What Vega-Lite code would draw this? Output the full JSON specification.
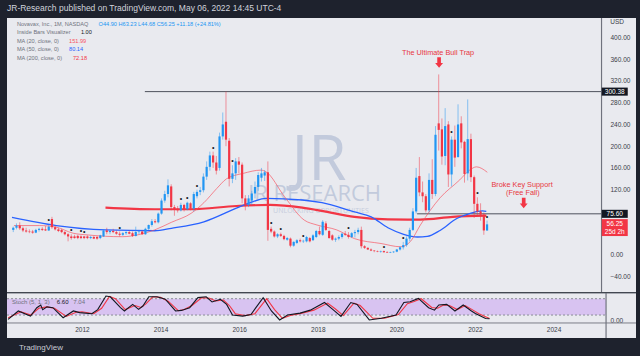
{
"$schema":"https://vega.github.io/schema/vega-lite/v6.json",
"background":"#1e222d",
"padding":{"left":5,"right":6,"top":3,"bottom":4},
"spacing":0,
"title":{"text":"TradingView","orient":"bottom","anchor":"start","dx":13,"color":"#c9ccd4","fontSize":8,"font":"Liberation Sans","fontWeight":"normal","offset":6},
"datasets":{
"candles":[
{"t":2010.125,"o":46,"h":52,"l":42,"c":50},{"t":2010.208,"o":50,"h":58,"l":47,"c":54},{"t":2010.292,"o":54,"h":60,"l":46,"c":49},{"t":2010.375,"o":49,"h":52,"l":42,"c":45},{"t":2010.458,"o":45,"h":50,"l":41,"c":43},{"t":2010.542,"o":43,"h":47,"l":40,"c":42},{"t":2010.625,"o":43,"h":46,"l":39,"c":41},{"t":2010.708,"o":41,"h":48,"l":40,"c":46},{"t":2010.792,"o":46,"h":50,"l":43,"c":48},{"t":2010.875,"o":48,"h":51,"l":44,"c":46},{"t":2010.958,"o":47,"h":53,"l":44,"c":45},
{"t":2011.042,"o":45,"h":56,"l":44,"c":52,"ib":1},{"t":2011.125,"o":66,"h":70,"l":48,"c":51},{"t":2011.208,"o":51,"h":54,"l":45,"c":47},{"t":2011.292,"o":47,"h":50,"l":42,"c":44},{"t":2011.375,"o":46,"h":48,"l":40,"c":42},{"t":2011.458,"o":42,"h":44,"l":36,"c":38},{"t":2011.542,"o":38,"h":40,"l":25,"c":34},{"t":2011.625,"o":34,"h":38,"l":28,"c":31,"ib":1},{"t":2011.708,"o":34,"h":37,"l":30,"c":31},{"t":2011.792,"o":35,"h":37,"l":29,"c":31},{"t":2011.875,"o":34,"h":36,"l":29,"c":31,"ib":1},{"t":2011.958,"o":34,"h":35,"l":29,"c":31,"ib":1},
{"t":2012.042,"o":34,"h":36,"l":29,"c":31},{"t":2012.125,"o":31,"h":35,"l":29,"c":33},{"t":2012.208,"o":33,"h":35,"l":29,"c":30},{"t":2012.292,"o":33,"h":35,"l":28,"c":30},{"t":2012.375,"o":31,"h":37,"l":29,"c":36},{"t":2012.458,"o":34,"h":47,"l":33,"c":45},{"t":2012.542,"o":45,"h":50,"l":38,"c":42},{"t":2012.625,"o":42,"h":46,"l":38,"c":44},{"t":2012.708,"o":44,"h":48,"l":40,"c":42},{"t":2012.792,"o":42,"h":45,"l":37,"c":39},{"t":2012.875,"o":39,"h":43,"l":34,"c":37,"ib":1},{"t":2012.958,"o":37,"h":42,"l":35,"c":40},
{"t":2013.042,"o":40,"h":44,"l":37,"c":42},{"t":2013.125,"o":42,"h":45,"l":38,"c":39},{"t":2013.208,"o":40,"h":43,"l":33,"c":35},{"t":2013.292,"o":35,"h":52,"l":34,"c":42},{"t":2013.375,"o":42,"h":46,"l":38,"c":43},{"t":2013.458,"o":43,"h":45,"l":37,"c":38},{"t":2013.542,"o":38,"h":50,"l":37,"c":48},{"t":2013.625,"o":48,"h":56,"l":46,"c":55},{"t":2013.708,"o":55,"h":66,"l":52,"c":62},{"t":2013.792,"o":62,"h":66,"l":58,"c":60},{"t":2013.875,"o":60,"h":78,"l":58,"c":76},{"t":2013.958,"o":76,"h":104,"l":74,"c":100},
{"t":2014.042,"o":100,"h":118,"l":96,"c":112},{"t":2014.125,"o":112,"h":139,"l":106,"c":128},{"t":2014.208,"o":126,"h":130,"l":82,"c":88},{"t":2014.292,"o":88,"h":92,"l":72,"c":84},{"t":2014.375,"o":85,"h":90,"l":78,"c":82},{"t":2014.458,"o":82,"h":96,"l":80,"c":92,"ib":1},{"t":2014.542,"o":92,"h":94,"l":80,"c":84},{"t":2014.625,"o":84,"h":98,"l":82,"c":96,"ib":1},{"t":2014.708,"o":95,"h":97,"l":82,"c":85},{"t":2014.792,"o":85,"h":116,"l":80,"c":112},{"t":2014.875,"o":108,"h":120,"l":104,"c":116,"ib":1},{"t":2014.958,"o":116,"h":125,"l":110,"c":119},
{"t":2015.042,"o":119,"h":150,"l":115,"c":144},{"t":2015.125,"o":144,"h":172,"l":138,"c":162},{"t":2015.208,"o":162,"h":190,"l":155,"c":183},{"t":2015.292,"o":183,"h":190,"l":160,"c":170,"ib":1},{"t":2015.375,"o":170,"h":182,"l":148,"c":155},{"t":2015.458,"o":160,"h":225,"l":155,"c":218},{"t":2015.542,"o":218,"h":262,"l":212,"c":240},{"t":2015.625,"o":245,"h":300.38,"l":200,"c":212},{"t":2015.708,"o":210,"h":215,"l":126,"c":140},{"t":2015.792,"o":140,"h":165,"l":132,"c":150,"ib":1},{"t":2015.875,"o":150,"h":178,"l":138,"c":172},{"t":2015.958,"o":172,"h":180,"l":150,"c":166},
{"t":2016.042,"o":166,"h":170,"l":95,"c":104},{"t":2016.125,"o":104,"h":110,"l":82,"c":92},{"t":2016.208,"o":92,"h":110,"l":88,"c":104},{"t":2016.292,"o":100,"h":118,"l":92,"c":113},{"t":2016.375,"o":113,"h":135,"l":104,"c":125},{"t":2016.458,"o":125,"h":152,"l":118,"c":147},{"t":2016.542,"o":142,"h":160,"l":135,"c":150},{"t":2016.625,"o":146,"h":156,"l":136,"c":152},{"t":2016.708,"o":152,"h":172,"l":26,"c":46},{"t":2016.792,"o":48,"h":52,"l":40,"c":43,"ib":1},{"t":2016.875,"o":43,"h":45,"l":32,"c":34},{"t":2016.958,"o":34,"h":40,"l":31,"c":38},
{"t":2017.042,"o":38,"h":41,"l":33,"c":35,"ib":1},{"t":2017.125,"o":35,"h":37,"l":27,"c":29},{"t":2017.208,"o":28,"h":33,"l":26,"c":31},{"t":2017.292,"o":30,"h":32,"l":14,"c":17},{"t":2017.375,"o":17,"h":25,"l":15,"c":24},{"t":2017.458,"o":22,"h":29,"l":20,"c":27},{"t":2017.542,"o":27,"h":30,"l":23,"c":25},{"t":2017.625,"o":25,"h":28,"l":22,"c":26,"ib":1},{"t":2017.708,"o":25,"h":35,"l":23,"c":33},{"t":2017.792,"o":31,"h":33,"l":23,"c":25},{"t":2017.875,"o":27,"h":38,"l":26,"c":36},{"t":2017.958,"o":33,"h":46,"l":31,"c":44},
{"t":2018.042,"o":44,"h":52,"l":36,"c":38},{"t":2018.125,"o":37,"h":64,"l":35,"c":61},{"t":2018.208,"o":58,"h":62,"l":44,"c":46},{"t":2018.292,"o":44,"h":46,"l":30,"c":31},{"t":2018.375,"o":36,"h":38,"l":26,"c":28},{"t":2018.458,"o":28,"h":32,"l":24,"c":30},{"t":2018.542,"o":30,"h":36,"l":27,"c":33},{"t":2018.625,"o":33,"h":41,"l":30,"c":39},{"t":2018.708,"o":39,"h":44,"l":35,"c":37},{"t":2018.792,"o":37,"h":42,"l":30,"c":33,"ib":1},{"t":2018.875,"o":33,"h":42,"l":31,"c":40},{"t":2018.958,"o":40,"h":46,"l":32,"c":42},
{"t":2019.042,"o":42,"h":50,"l":38,"c":46},{"t":2019.125,"o":46,"h":52,"l":12,"c":16},{"t":2019.208,"o":16,"h":18,"l":11,"c":13},{"t":2019.292,"o":13,"h":14,"l":9,"c":10},{"t":2019.375,"o":10,"h":12,"l":7,"c":8},{"t":2019.458,"o":8,"h":9,"l":5,"c":7},{"t":2019.542,"o":7,"h":8,"l":5,"c":6},{"t":2019.625,"o":6,"h":8,"l":4,"c":7},{"t":2019.708,"o":7,"h":8,"l":4,"c":5,"ib":1},{"t":2019.792,"o":5,"h":7,"l":3.5,"c":4},{"t":2019.875,"o":4,"h":6,"l":3.5,"c":5},{"t":2019.958,"o":5,"h":7,"l":3.5,"c":6},
{"t":2020.042,"o":6,"h":11,"l":5,"c":10},{"t":2020.125,"o":10,"h":16,"l":8,"c":14},{"t":2020.208,"o":14,"h":24,"l":10,"c":18,"ib":1},{"t":2020.292,"o":18,"h":34,"l":15,"c":30},{"t":2020.375,"o":30,"h":50,"l":25,"c":46},{"t":2020.458,"o":46,"h":86,"l":44,"c":80},{"t":2020.542,"o":80,"h":160,"l":76,"c":142},{"t":2020.625,"o":145,"h":180,"l":108,"c":115},{"t":2020.708,"o":115,"h":135,"l":97,"c":108},{"t":2020.792,"o":108,"h":112,"l":78,"c":82},{"t":2020.875,"o":82,"h":150,"l":78,"c":138},{"t":2020.958,"o":138,"h":176,"l":103,"c":112},
{"t":2021.042,"o":112,"h":237,"l":108,"c":221},{"t":2021.125,"o":242,"h":332,"l":192,"c":230},{"t":2021.208,"o":231,"h":251,"l":166,"c":181},{"t":2021.292,"o":182,"h":270,"l":165,"c":237},{"t":2021.375,"o":240,"h":246,"l":125,"c":148},{"t":2021.458,"o":148,"h":218,"l":126,"c":212,"ib":1},{"t":2021.542,"o":212,"h":238,"l":162,"c":179},{"t":2021.625,"o":180,"h":277,"l":179,"c":240},{"t":2021.708,"o":242,"h":255,"l":196,"c":207},{"t":2021.792,"o":208,"h":210,"l":133,"c":149},{"t":2021.875,"o":150,"h":286,"l":137,"c":213},{"t":2021.958,"o":213,"h":223,"l":134,"c":143},
{"t":2022.042,"o":143,"h":146,"l":68,"c":94},{"t":2022.125,"o":94,"h":106,"l":70,"c":80,"ib":1},{"t":2022.208,"o":80,"h":95,"l":63,"c":74},{"t":2022.292,"o":74,"h":78,"l":37,"c":45},{"t":2022.375,"o":44.9,"h":63.23,"l":44.68,"c":56.25,"ib":1}
],
"ma20":[{"t":2010.143,"v":54},{"t":2010.804,"v":54},{"t":2011.237,"v":51},{"t":2011.669,"v":40},{"t":2012.076,"v":36.6},{"t":2012.941,"v":33.5},{"t":2013.349,"v":37},{"t":2013.781,"v":46},{"t":2014.214,"v":60},{"t":2014.723,"v":76.5},{"t":2015.053,"v":96},{"t":2015.384,"v":122},{"t":2015.639,"v":140},{"t":2016.071,"v":150},{"t":2016.529,"v":156},{"t":2016.656,"v":153},{"t":2017.14,"v":107},{"t":2017.649,"v":64},{"t":2017.98,"v":55},{"t":2018.489,"v":46},{"t":2018.947,"v":30},{"t":2019.634,"v":21},{"t":2020.142,"v":15},{"t":2020.397,"v":25},{"t":2020.651,"v":55},{"t":2021.16,"v":105},{"t":2021.669,"v":138},{"t":2021.924,"v":156},{"t":2022.102,"v":162},{"t":2022.382,"v":152}],
"ma50":[{"t":2010.092,"v":69},{"t":2011.237,"v":54},{"t":2012.509,"v":46},{"t":2013.781,"v":44.5},{"t":2014.214,"v":49},{"t":2015.053,"v":61},{"t":2015.893,"v":86},{"t":2016.326,"v":98},{"t":2016.656,"v":104},{"t":2017.598,"v":101},{"t":2018.107,"v":96},{"t":2018.947,"v":79},{"t":2019.379,"v":70},{"t":2019.812,"v":50},{"t":2020.219,"v":38},{"t":2020.575,"v":33},{"t":2020.83,"v":34},{"t":2021.16,"v":45},{"t":2021.593,"v":67},{"t":2021.924,"v":76},{"t":2022.254,"v":81},{"t":2022.356,"v":80.14}],
"ma200":[{"t":2012.509,"v":87},{"t":2013.781,"v":84},{"t":2014.723,"v":84},{"t":2015.893,"v":90},{"t":2016.758,"v":92},{"t":2017.598,"v":87},{"t":2018.107,"v":81},{"t":2018.947,"v":70},{"t":2019.812,"v":65.5},{"t":2020.651,"v":65},{"t":2021.491,"v":70},{"t":2022.356,"v":72.18}],
"stochK":[{"t":2010.12,"v":4},{"t":2010.38,"v":35},{"t":2010.59,"v":22},{"t":2010.69,"v":16},{"t":2010.85,"v":47},{"t":2010.95,"v":57},{"t":2011.0,"v":40},{"t":2011.11,"v":50},{"t":2011.26,"v":47},{"t":2011.52,"v":10},{"t":2011.78,"v":35},{"t":2011.94,"v":29},{"t":2012.25,"v":25},{"t":2012.4,"v":40},{"t":2012.61,"v":90},{"t":2012.72,"v":87},{"t":2012.98,"v":47},{"t":2013.08,"v":35},{"t":2013.29,"v":59},{"t":2013.44,"v":41},{"t":2013.55,"v":53},{"t":2013.7,"v":87},{"t":2013.91,"v":87},{"t":2014.12,"v":78},{"t":2014.38,"v":35},{"t":2014.53,"v":37},{"t":2014.74,"v":47},{"t":2014.95,"v":84},{"t":2015.16,"v":87},{"t":2015.31,"v":68},{"t":2015.52,"v":78},{"t":2015.68,"v":59},{"t":2015.83,"v":20},{"t":2016.09,"v":16},{"t":2016.3,"v":22},{"t":2016.61,"v":84},{"t":2016.82,"v":35},{"t":2017.03,"v":2},{"t":2017.23,"v":20},{"t":2017.55,"v":27},{"t":2017.81,"v":38},{"t":2018.17,"v":66},{"t":2018.38,"v":41},{"t":2018.59,"v":15},{"t":2018.84,"v":66},{"t":2019.0,"v":59},{"t":2019.31,"v":2},{"t":2019.62,"v":8},{"t":2019.99,"v":20},{"t":2020.19,"v":66},{"t":2020.35,"v":69},{"t":2020.56,"v":81},{"t":2020.82,"v":47},{"t":2020.97,"v":38},{"t":2021.08,"v":57},{"t":2021.28,"v":59},{"t":2021.49,"v":35},{"t":2021.7,"v":57},{"t":2021.91,"v":35},{"t":2022.01,"v":26},{"t":2022.27,"v":7},{"t":2022.37,"v":6.6}],
"stochD":[{"t":2010.12,"v":10},{"t":2010.45,"v":32},{"t":2010.7,"v":20},{"t":2010.9,"v":45},{"t":2011.1,"v":50},{"t":2011.3,"v":45},{"t":2011.6,"v":15},{"t":2011.85,"v":30},{"t":2012.0,"v":32},{"t":2012.3,"v":25},{"t":2012.5,"v":45},{"t":2012.7,"v":88},{"t":2012.85,"v":80},{"t":2013.1,"v":40},{"t":2013.35,"v":55},{"t":2013.5,"v":48},{"t":2013.62,"v":60},{"t":2013.8,"v":87},{"t":2014.0,"v":85},{"t":2014.2,"v":70},{"t":2014.45,"v":36},{"t":2014.6,"v":40},{"t":2014.8,"v":55},{"t":2015.05,"v":84},{"t":2015.25,"v":82},{"t":2015.4,"v":72},{"t":2015.6,"v":75},{"t":2015.75,"v":55},{"t":2015.9,"v":25},{"t":2016.15,"v":18},{"t":2016.4,"v":25},{"t":2016.7,"v":80},{"t":2016.9,"v":40},{"t":2017.1,"v":8},{"t":2017.3,"v":18},{"t":2017.6,"v":27},{"t":2017.9,"v":38},{"t":2018.25,"v":64},{"t":2018.45,"v":42},{"t":2018.65,"v":18},{"t":2018.92,"v":64},{"t":2019.08,"v":55},{"t":2019.4,"v":8},{"t":2019.7,"v":8},{"t":2020.05,"v":22},{"t":2020.28,"v":62},{"t":2020.45,"v":70},{"t":2020.63,"v":80},{"t":2020.9,"v":48},{"t":2021.05,"v":45},{"t":2021.2,"v":57},{"t":2021.35,"v":55},{"t":2021.55,"v":40},{"t":2021.75,"v":55},{"t":2021.95,"v":38},{"t":2022.1,"v":25},{"t":2022.37,"v":7.04}],
"legend":[{"t":2010.219,"v":425.3,"text":"Novavax, Inc., 1M, NASDAQ","g":"label"},{"t":2012.331,"v":425.3,"text":"O44.90 H63.23 L44.68 C56.25 +11.18 (+24.81%)","g":"up"},{"t":2010.219,"v":409.5,"text":"Inside Bars Visualizer","g":"label"},{"t":2011.873,"v":409.5,"text":"1.00","g":"plain"},{"t":2010.219,"v":393.5,"text":"MA (20, close, 0)","g":"label"},{"t":2011.567,"v":393.5,"text":"151.99","g":"ma20"},{"t":2010.219,"v":378.2,"text":"MA (50, close, 0)","g":"label"},{"t":2011.567,"v":378.2,"text":"80.14","g":"ma50"},{"t":2010.219,"v":362.2,"text":"MA (200, close, 0)","g":"label"},{"t":2011.669,"v":362.2,"text":"72.18","g":"ma200"}]
},
"vconcat":[
{
"width":629,"height":274,
"title":{"text":"JR-Research published on TradingView.com, May 06, 2022 14:45 UTC-4","anchor":"start","color":"#d1d4dc","fontSize":8.5,"font":"Liberation Sans","fontWeight":"normal","offset":6},
"encoding":{
"x":{"field":"t","type":"quantitative","scale":{"domain":[2010.092,2026.097],"nice":false,"zero":false},"axis":{"orient":"bottom","labels":false,"ticks":false,"title":null,"domain":false,"tickCount":1}}
},
"layer":[
{"data":{"values":[{"t":2018.03,"v":137.8,"text":"JR"}]},"mark":{"type":"text","fontSize":62,"font":"Open Sans","color":"#c2cadc","baseline":"alphabetic","align":"center"},
 "encoding":{"y":{"field":"v","type":"quantitative","scale":{"domain":[-68.2,435.8],"nice":false,"zero":false},"axis":{"orient":"right","offset":-30,"values":[-40,0,120,160,200,240,280,320,360,400],"format":".2f","title":null,"domain":false}},"text":{"field":"text"}}},
{"data":{"values":[{"t":2016.2,"v":99.2,"text":"JR RESEARCH"}]},"mark":{"type":"text","fontSize":22,"font":"Open Sans","color":"#c2cadc","baseline":"alphabetic","align":"left"},
 "encoding":{"y":{"field":"v","type":"quantitative","scale":{"domain":[-68.2,435.8],"nice":false,"zero":false},"axis":{"orient":"right","offset":-30,"values":[-40,0,120,160,200,240,280,320,360,400],"format":".2f","title":null,"domain":false}},"text":{"field":"text"}}},
{"data":{"values":[{"t":2018.08,"v":81,"text":"UNLOCKING OPPORTUNITIES"}]},"mark":{"type":"text","fontSize":7,"font":"Open Sans","color":"#c6cddd","baseline":"middle","align":"center"},
 "encoding":{"y":{"field":"v","type":"quantitative","scale":{"domain":[-68.2,435.8],"nice":false,"zero":false},"axis":{"orient":"right","offset":-30,"values":[-40,0,120,160,200,240,280,320,360,400],"format":".2f","title":null,"domain":false}},"text":{"field":"text"}}},
{"data":{"values":[{"t":2013.527,"t2":2025.333,"v":300.38},{"t":2020.567,"t2":2025.333,"v":75.6}]},"mark":{"type":"rule","color":"#4e515c","strokeWidth":1},
 "encoding":{"x2":{"field":"t2"},"y":{"field":"v","type":"quantitative","scale":{"domain":[-68.2,435.8],"nice":false,"zero":false},"axis":{"orient":"right","offset":-30,"values":[-40,0,120,160,200,240,280,320,360,400],"format":".2f","title":null,"domain":false}}}},
{"data":{"name":"ma200"},"mark":{"type":"line","color":"#f23645","strokeWidth":2.2,"interpolate":"monotone"},
 "encoding":{"y":{"field":"v","type":"quantitative","scale":{"domain":[-68.2,435.8],"nice":false,"zero":false},"axis":{"orient":"right","offset":-30,"values":[-40,0,120,160,200,240,280,320,360,400],"format":".2f","title":null,"domain":false}}}},
{"data":{"name":"ma50"},"mark":{"type":"line","color":"#2962ff","strokeWidth":1.3,"interpolate":"monotone"},
 "encoding":{"y":{"field":"v","type":"quantitative","scale":{"domain":[-68.2,435.8],"nice":false,"zero":false},"axis":{"orient":"right","offset":-30,"values":[-40,0,120,160,200,240,280,320,360,400],"format":".2f","title":null,"domain":false}}}},
{"data":{"name":"ma20"},"mark":{"type":"line","color":"#f7525f","strokeWidth":0.8,"opacity":0.85,"interpolate":"monotone"},
 "encoding":{"y":{"field":"v","type":"quantitative","scale":{"domain":[-68.2,435.8],"nice":false,"zero":false},"axis":{"orient":"right","offset":-30,"values":[-40,0,120,160,200,240,280,320,360,400],"format":".2f","title":null,"domain":false}}}},
{"data":{"name":"candles"},"mark":{"type":"rule","strokeWidth":1,"opacity":0.5},
 "encoding":{"y":{"field":"l","type":"quantitative","scale":{"domain":[-68.2,435.8],"nice":false,"zero":false},"axis":{"orient":"right","offset":-30,"values":[-40,0,120,160,200,240,280,320,360,400],"format":".2f","title":null,"domain":false}},"y2":{"field":"h"},
 "color":{"condition":{"test":"datum.c >= datum.o","value":"#2196f3"},"value":"#f23645"}}},
{"data":{"name":"candles"},"mark":{"type":"bar","size":2.2},
 "encoding":{"y":{"field":"o","type":"quantitative","scale":{"domain":[-68.2,435.8],"nice":false,"zero":false},"axis":{"orient":"right","offset":-30,"values":[-40,0,120,160,200,240,280,320,360,400],"format":".2f","title":null,"domain":false}},"y2":{"field":"c"},
 "color":{"condition":{"test":"datum.c >= datum.o","value":"#2196f3"},"value":"#f23645"}}},
{"data":{"name":"candles"},"transform":[{"filter":"datum.ib"}],"mark":{"type":"text","text":"•","fontSize":7,"dy":-4,"color":"#131722","baseline":"middle"},
 "encoding":{"y":{"field":"h","type":"quantitative","scale":{"domain":[-68.2,435.8],"nice":false,"zero":false},"axis":{"orient":"right","offset":-30,"values":[-40,0,120,160,200,240,280,320,360,400],"format":".2f","title":null,"domain":false}}}},
{"data":{"values":[{"t":2021.109,"v":371.4,"text":"The Ultimate Bull Trap"},{"t":2023.28,"v":128,"text":"Broke Key Support"},{"t":2023.3,"v":114,"text":"(Free Fall)"}]},"mark":{"type":"text","fontSize":7.3,"color":"#e8373f","align":"center","baseline":"middle"},
 "encoding":{"y":{"field":"v","type":"quantitative","scale":{"domain":[-68.2,435.8],"nice":false,"zero":false},"axis":{"orient":"right","offset":-30,"values":[-40,0,120,160,200,240,280,320,360,400],"format":".2f","title":null,"domain":false}},"text":{"field":"text"}}},
{"data":{"values":[{"t":2021.135,"v":354},{"t":2023.323,"v":95.5}]},"mark":{"type":"point","shape":"M-0.35,-1L0.35,-1L0.35,0.1L0.75,0.1L0,1L-0.75,0.1L-0.35,0.1Z","size":110,"filled":true,"color":"#f23645","opacity":1,"strokeWidth":0},
 "encoding":{"y":{"field":"v","type":"quantitative","scale":{"domain":[-68.2,435.8],"nice":false,"zero":false},"axis":{"orient":"right","offset":-30,"values":[-40,0,120,160,200,240,280,320,360,400],"format":".2f","title":null,"domain":false}}}},
{"data":{"values":[{"t":2025.32,"t2":2025.35,"v":-68.2,"v2":435.8}]},"mark":{"type":"rect","color":"#6f727d","opacity":1},
 "encoding":{"x2":{"field":"t2"},"y":{"field":"v","type":"quantitative","scale":{"domain":[-68.2,435.8],"nice":false,"zero":false},"axis":{"orient":"right","offset":-30,"values":[-40,0,120,160,200,240,280,320,360,400],"format":".2f","title":null,"domain":false}},"y2":{"field":"v2"}}},
{"data":{"values":[{"t":2025.677,"v":300.38},{"t":2025.677,"v":75.6}]},"mark":{"type":"point","shape":"M-1,-0.31L1,-0.31L1,0.31L-1,0.31Z","size":676,"filled":true,"color":"#131722","opacity":1,"strokeWidth":0},
 "encoding":{"y":{"field":"v","type":"quantitative","scale":{"domain":[-68.2,435.8],"nice":false,"zero":false},"axis":{"orient":"right","offset":-30,"values":[-40,0,120,160,200,240,280,320,360,400],"format":".2f","title":null,"domain":false}}}},
{"data":{"values":[{"t":2025.677,"v":56.25}]},"mark":{"type":"point","shape":"M-1,-0.4L1,-0.4L1,0.9L-1,0.9Z","size":676,"filled":true,"color":"#f23645","opacity":1,"strokeWidth":0},
 "encoding":{"y":{"field":"v","type":"quantitative","scale":{"domain":[-68.2,435.8],"nice":false,"zero":false},"axis":{"orient":"right","offset":-30,"values":[-40,0,120,160,200,240,280,320,360,400],"format":".2f","title":null,"domain":false}}}},
{"data":{"values":[{"t":2025.677,"v":300.38,"text":"300.38"},{"t":2025.677,"v":75.6,"text":"75.60"},{"t":2025.677,"v":56.25,"text":"56.25"}]},"mark":{"type":"text","fontSize":6.5,"color":"#ffffff","align":"center","baseline":"middle"},
 "encoding":{"y":{"field":"v","type":"quantitative","scale":{"domain":[-68.2,435.8],"nice":false,"zero":false},"axis":{"orient":"right","offset":-30,"values":[-40,0,120,160,200,240,280,320,360,400],"format":".2f","title":null,"domain":false}},"text":{"field":"text"}}},
{"data":{"values":[{"t":2025.677,"v":56.25,"text":"25d 2h"}]},"mark":{"type":"text","fontSize":6.5,"color":"#ffffff","align":"center","baseline":"middle","dy":7.5},
 "encoding":{"y":{"field":"v","type":"quantitative","scale":{"domain":[-68.2,435.8],"nice":false,"zero":false},"axis":{"orient":"right","offset":-30,"values":[-40,0,120,160,200,240,280,320,360,400],"format":".2f","title":null,"domain":false}},"text":{"field":"text"}}},
{"data":{"values":[{"t":2025.74,"v":428.4,"text":"USD"}]},"mark":{"type":"text","fontSize":6.5,"color":"#3b3e48","align":"center","baseline":"middle"},
 "encoding":{"y":{"field":"v","type":"quantitative","scale":{"domain":[-68.2,435.8],"nice":false,"zero":false},"axis":{"orient":"right","offset":-30,"values":[-40,0,120,160,200,240,280,320,360,400],"format":".2f","title":null,"domain":false}},"text":{"field":"text"}}},
{"data":{"name":"legend"},"mark":{"type":"text","fontSize":5.6,"align":"left","baseline":"middle"},
 "encoding":{"y":{"field":"v","type":"quantitative","scale":{"domain":[-68.2,435.8],"nice":false,"zero":false},"axis":{"orient":"right","offset":-30,"values":[-40,0,120,160,200,240,280,320,360,400],"format":".2f","title":null,"domain":false}},"text":{"field":"text"},
 "color":{"field":"g","type":"nominal","scale":{"domain":["label","up","plain","ma20","ma50","ma200"],"range":["#6f727d","#2196f3","#131722","#f7525f","#2962ff","#f23645"]},"legend":null}}}
]
},
{
"width":629,"height":45,
"encoding":{"x":{"field":"t","type":"quantitative","scale":{"domain":[2010.092,2026.097],"nice":false,"zero":false},"axis":{"orient":"bottom","offset":-15,"values":[2012,2014,2016,2018,2020,2022,2024],"format":"d","title":null,"labelPadding":3,"domain":false}}},
"layer":[
{"data":{"values":[{"t":2010.092,"t2":2025.333,"lo":20,"hi":80}]},"mark":{"type":"rect","color":"#d8c3f1","opacity":1},
 "encoding":{"x2":{"field":"t2"},
 "y":{"field":"lo","type":"quantitative","scale":{"domain":[-64.4,101],"nice":false,"zero":false},"axis":{"orient":"right","offset":-30,"values":[0],"format":".2f","title":null,"domain":false}},"y2":{"field":"hi"}}},
{"data":{"values":[{"t":2010.092,"t2":2025.333,"v":20},{"t":2010.092,"t2":2025.333,"v":80}]},"mark":{"type":"rule","color":"#8a8d96","strokeDash":[2,2],"strokeWidth":1},
 "encoding":{"x2":{"field":"t2"},
 "y":{"field":"v","type":"quantitative","scale":{"domain":[-64.4,101],"nice":false,"zero":false},"axis":{"orient":"right","offset":-30,"values":[0],"format":".2f","title":null,"domain":false}}}},
{"data":{"values":[{"t":2010.092,"t2":2026.097,"v":100.6},{"t":2010.092,"t2":2026.097,"v":-9.2}]},"mark":{"type":"rule","color":"#7b7e89","strokeWidth":1},
 "encoding":{"x2":{"field":"t2"},
 "y":{"field":"v","type":"quantitative","scale":{"domain":[-64.4,101],"nice":false,"zero":false},"axis":{"orient":"right","offset":-30,"values":[0],"format":".2f","title":null,"domain":false}}}},
{"data":{"values":[{"t":2025.32,"t2":2025.35,"v":-64.4,"v2":101}]},"mark":{"type":"rect","color":"#6f727d","opacity":1},
 "encoding":{"x2":{"field":"t2"},"y":{"field":"v","type":"quantitative","scale":{"domain":[-64.4,101],"nice":false,"zero":false},"axis":{"orient":"right","offset":-30,"values":[0],"format":".2f","title":null,"domain":false}},"y2":{"field":"v2"}}},
{"data":{"name":"stochD"},"mark":{"type":"line","color":"#f23645","strokeWidth":1.1},
 "encoding":{"y":{"field":"v","type":"quantitative","scale":{"domain":[-64.4,101],"nice":false,"zero":false},"axis":{"orient":"right","offset":-30,"values":[0],"format":".2f","title":null,"domain":false}}}},
{"data":{"name":"stochK"},"mark":{"type":"line","color":"#131722","strokeWidth":1.1},
 "encoding":{"y":{"field":"v","type":"quantitative","scale":{"domain":[-64.4,101],"nice":false,"zero":false},"axis":{"orient":"right","offset":-30,"values":[0],"format":".2f","title":null,"domain":false}}}},
{"data":{"values":[{"t":2010.219,"v":69,"text":"Stoch (5, 1, 3)","g":"label"},{"t":2011.36,"v":69,"text":"6.60","g":"plain"},{"t":2011.78,"v":69,"text":"7.04","g":"d"}]},"mark":{"type":"text","fontSize":6,"align":"left","baseline":"middle"},
 "encoding":{"y":{"field":"v","type":"quantitative","scale":{"domain":[-64.4,101],"nice":false,"zero":false},"axis":{"orient":"right","offset":-30,"values":[0],"format":".2f","title":null,"domain":false}},"text":{"field":"text"},
 "color":{"field":"g","type":"nominal","scale":{"domain":["label","plain","d"],"range":["#6f727d","#131722","#f23645"]},"legend":null}}}
]
}
],
"config":{
"view":{"fill":"#e9eaef","stroke":null},
"font":"Liberation Sans",
"text":{"font":"Liberation Sans"},
"axis":{"labelFont":"Liberation Sans","labelFontSize":6.5,"labelColor":"#3b3e48","ticks":false,"grid":false,"labelPadding":4}
}
}
